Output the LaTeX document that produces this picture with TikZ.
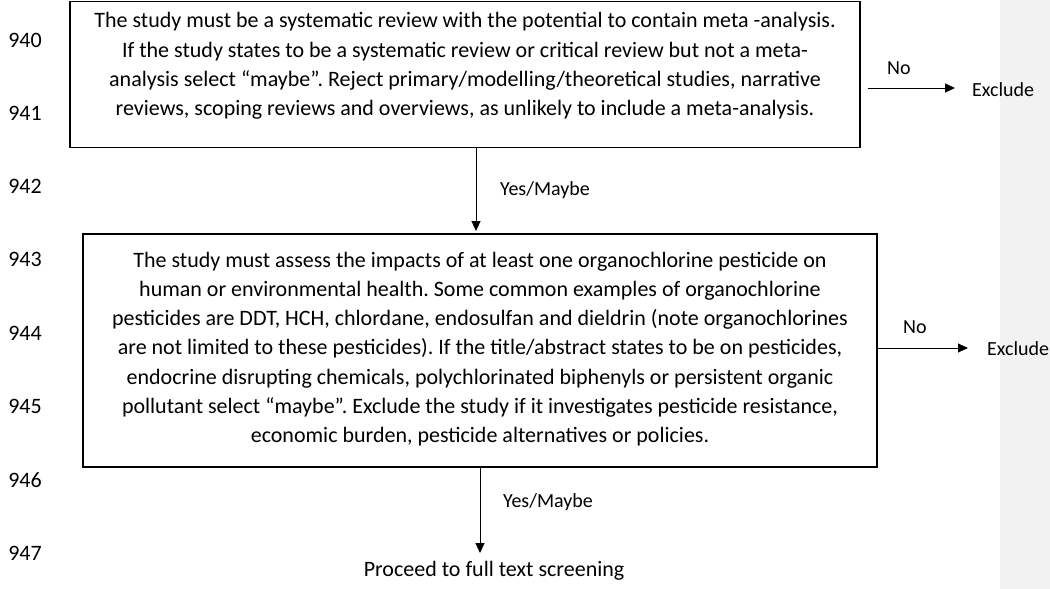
\documentclass[tikz,border=0pt]{standalone}
\usepackage{fontspec}
\setmainfont{Carlito}
\usetikzlibrary{arrows.meta}
\frenchspacing
\begin{document}
\begin{tikzpicture}[x=1pt,y=-1pt,
  font=\fontsize{22}{29.2}\selectfont,
  box/.style={draw, line width=1.3pt, inner sep=0pt},
  txt/.style={align=center, inner sep=0pt},
  arr/.style={-{Triangle[length=10pt,width=9pt]}, line width=0.9pt},
  lbl/.style={inner sep=0pt, anchor=west, font=\fontsize{20}{24}\selectfont},
  lnum/.style={inner sep=0pt, font=\fontsize{22}{24}\selectfont}]
\useasboundingbox (0,0) rectangle (1050,589);
\fill[gray!10] (1000,0) rectangle (1050,589);
% line numbers
\foreach \n [count=\k from 0] in {940,...,947}
  \node[lnum] (ln\n) at (25,40+73.3*\k) {\n};
% box 1
\node[box, minimum width=790pt, minimum height=146pt] (b1) at (465,74.5) {};
\node[txt] (t1) at (465,66) {The study must be a systematic review with the potential to contain meta -analysis.\\
If the study states to be a systematic review or critical review but not a meta-\\
analysis select “maybe”. Reject primary/modelling/theoretical studies, narrative\\
reviews, scoping reviews and overviews, as unlikely to include a meta-analysis.};
% box 2
\node[box, minimum width=794pt, minimum height=233pt] (b2) at (480,350.5) {};
\node[txt] (t2) at (480,349) {The study must assess the impacts of at least one organochlorine pesticide on\\
human or environmental health. Some common examples of organochlorine\\
pesticides are DDT, HCH, chlordane, endosulfan and dieldrin (note organochlorines\\
are not limited to these pesticides). If the title/abstract states to be on pesticides,\\
endocrine disrupting chemicals, polychlorinated biphenyls or persistent organic\\
pollutant select “maybe”. Exclude the study if it investigates pesticide resistance,\\
economic burden, pesticide alternatives or policies.};
% end node
\node[txt] (p) at (494,571) {Proceed to full text screening};
% exclude nodes
\node[lbl] (ex1) at (972,90) {Exclude};
\node[lbl] (ex2) at (987,349) {Exclude};
% labels
\node[lbl] (no1) at (887,68) {No};
\node[lbl] (no2) at (903,327) {No};
\node[lbl] (ym1) at (500,190) {Yes/Maybe};
\node[lbl] (ym2) at (503,502) {Yes/Maybe};
% connectors
\coordinate (a1) at (476,231);
\draw[arr] (a1 |- b1.south) -- (a1);
\coordinate (a2) at (480,553);
\draw[arr] (b2.south) -- (a2);
\draw[arr, shorten >=17pt] ([xshift=7pt]b1.east |- 0,88) -- (ex1.west |- 0,88);
\draw[arr, shorten >=19pt] (b2.east |- 0,348) -- (ex2.west |- 0,348);
\end{tikzpicture}
\end{document}
